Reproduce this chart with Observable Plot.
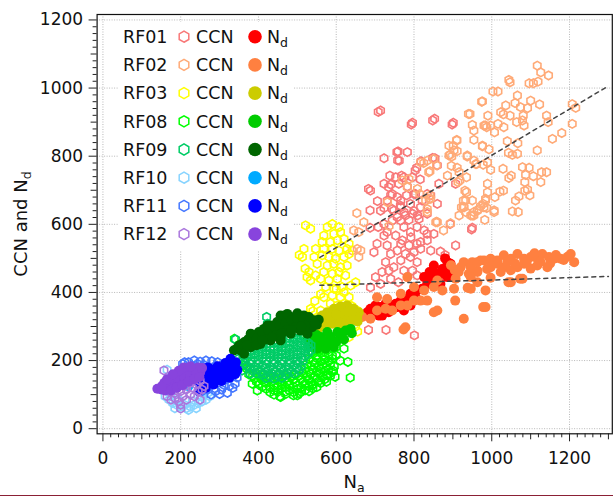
<!DOCTYPE html>
<html><head><meta charset="utf-8">
<script src="https://cdn.jsdelivr.net/npm/d3@7"></script>
<script src="https://cdn.jsdelivr.net/npm/@observablehq/plot@0.6"></script>
<style>
body{margin:0;background:#fff;}
#wrap{position:relative;width:613px;height:496px;overflow:hidden;background:#fff;}
#bottomline{position:absolute;left:0;top:495px;width:613px;height:1px;background:#8b2035;}
</style></head>
<body><div id="wrap"><div id="bottomline"></div></div>
<script>
// ---------- tick labels ----------
const xTicks = [0, 200, 400, 600, 800, 1000, 1200];
const yTicks = [0, 200, 400, 600, 800, 1000, 1200];
const flights = ["RF01", "RF02", "RF03", "RF08", "RF09", "RF10", "RF11", "RF12"];
const ccnColors = ["#f87878", "#ffaa77", "#ffff00", "#00ff00", "#00cc66", "#88d4ff", "#4477ff", "#aa77dd"];
const ndColors  = ["#ff0000", "#ff8040", "#cccc00", "#00cc00", "#006600", "#00aaff", "#0000ff", "#8844dd"];

// ---------- data (Na, value) ----------
const rf01CCN = [[708,930],[714,934],[848,905],[853,910],[898,893],[901,898],[793,893],[796,898],
[723,794],[756,812],[759,814],[783,812],[758,788],[762,787],[848,795],[854,794],[818,785],[860,773],[807,766],
[803,758],[768,743],[738,743],[753,738],[774,738],[796,738],[816,732],[723,719],[740,717],[761,719],[735,709],[783,711],[864,719],[907,719],[683,704],
[688,699],[744,689],[757,680],[781,685],[804,689],[834,689],[740,685],[800,689],[843,685],[731,670],[766,670],[821,670],[706,668],[765,655],[791,660],[860,660],[723,648],[744,645],[766,650],[817,650],[687,641],[714,640],[748,640],[774,636],[800,639],[834,631],[796,631],[778,626],[757,621],[809,626],[813,616],[744,611],[766,611],[787,613],[723,601],[893,601],[774,592],[808,592],[708,592],[687,590],[826,582],[791,577],[731,577],[834,572],[851,572],[723,567],[753,567],[792,562],[770,553],[834,553],[787,538],[808,543],[705,543],[731,538],[766,543],[817,548],[757,523],[778,513],[800,518],[817,528],[843,523],[697,518],[740,513],[907,538],[766,494],[791,504],[808,489],[727,489],[748,474],[718,460],[735,464],[774,464],[796,464],[808,450],[701,445],[714,425],[740,440],[688,415],[760,430],[850,460],[875,470],[880,510],[868,520],[840,455],[683,290],[728,290],[801,274],[948,585],[950,590]];

const rf01Nd = [[886,489],[903,464],[873,469],[860,455],[847,440],[834,425],[821,411],[808,406],[791,396],[778,381],[766,376],[753,367],[740,362],[727,367],[714,357],[701,362],[688,352],[680,342],[697,337],[710,332],[851,479],[868,425],[886,445],[894,484],[826,445],[804,386],[791,362],[774,347],[757,357],[735,342],[718,332],[688,332],[840,460],[860,440],[875,455],[890,470],[880,500]];

const rf02CCN = [[1117,1066],[1126,1046],[1146,1037],[1044,1024],[1047,1017],[1096,1014],[1107,1014],[1119,1019],[1003,990],[1016,990],[1066,978],[974,960],[1100,963],[1123,952],[1036,949],[1060,956],[1074,944],[1092,941],[1207,953],[1216,942],[944,924],[990,919],[1023,929],[1030,923],[1047,919],[1141,919],[1081,919],[1079,905],[950,892],[954,875],[984,890],[997,890],[1016,895],[1031,885],[1064,900],[1083,890],[1007,870],[1145,900],[1207,895],[1180,868],[1156,851],[954,848],[1040,844],[1067,838],[976,829],[1043,810],[1053,804],[1066,807],[1117,817],[937,802],[954,787],[959,777],[989,782],[997,760],[1029,763],[1079,768],[1096,766],[1128,753],[1141,753],[1044,736],[1050,743],[1087,745],[1107,741],[1126,724],[935,694],[989,719],[989,694],[1030,699],[1021,696],[1085,724],[1085,699],[1092,702],[1008,680],[1070,682],[1061,670],[1098,685],[984,670],[971,653],[980,650],[933,670],[929,650],[1006,641],[1053,638],[954,636],[1068,636],
[976,961],[910,848],[890,831],[901,831],[911,815],[890,802],[897,799],[937,799],[980,890],[987,885],[976,831],[993,820],[961,777],[978,775],[896,772],[911,766],[935,738],[913,724],[886,743],[838,753],[825,780],[851,792],[858,773],[830,670],[841,685],[843,675],[834,636],[815,689],[927,670],[922,650],[946,626],[954,626],[967,645],[978,660],[987,648],[1006,636],[982,613],[858,608],
[940,924],[910,846],[903,817],[893,805],[916,753],[918,729],[931,699],[927,652],[834,787],[817,782],[841,756],[787,733],[783,709],[809,704],[839,675],[834,645],[856,606],[876,582],[653,633],[671,606],[732,665],[770,729],[736,595],
[645,582],[658,577],[654,528],[641,523],[663,523],[658,504],[950,670],[963,640],[933,636],[950,626],[984,675],[916,626],[860,606],[894,603]];

const rf02Nd = [[731,381],[766,396],[800,416],[817,376],[826,406],[834,376],[860,435],[873,406],[800,376],[783,362],[766,362],[744,347],[727,352],[705,347],[688,323],[667,328],[654,333],[705,386],[778,298],[783,445],[851,416],[640,335],[630,330],
[920,474],[928,489],[950,489],[971,494],[997,494],[988,469],[963,464],[941,455],[907,440],[903,411],[946,474],[963,489],[980,494],[997,499],[1014,494],[1031,509],[1049,499],[1066,513],[1083,499],[1100,504],[1117,499],[1130,513],[1147,504],[1160,499],[1177,499],[1203,513],[1212,489],[1143,474],[1100,470],[1066,474],[1031,474],[997,474],[963,460],[1049,465],[1083,484],[1117,479],[1023,460],[946,445],[963,430],[997,443],[1049,430],[1079,440],[984,406],[946,411],[984,357],[1014,484],[905,465],[895,480],[915,460],[1040,490],[1060,485],[1090,490],[1110,515],[1125,490],[1150,485],[1165,510],[1185,495],[1195,505],
[928,323],[860,347],[938,414],[906,376],[978,357],[851,342],[773,291],[1043,430],[1073,440]];

const rf03CCN = [[521,597],[534,587],[577,592],[590,601],[607,592],[568,567],[594,572],[611,577],[564,548],[585,548],[603,553],[620,557],[633,543],[517,528],[547,528],[568,528],[590,528],[607,523],[628,528],[513,504],[543,504],[564,509],[581,504],[598,499],[620,504],[633,513],[551,484],[577,479],[594,484],[611,474],[628,479],[530,460],[547,450],[568,460],[590,455],[607,460],[624,450],[534,435],[560,440],[581,435],[603,440],[650,430],[573,416],[594,411],[615,416],[637,420],[568,386],[590,391],[611,386],[633,386],[585,367],[603,362],[620,367],[534,352],[560,347],[654,347],[577,332],[540,345],[643,318],[633,269],[650,300],[655,285],[525,445],[505,510],[520,470],[600,410],[560,395],[545,375],[620,400],[640,360],[615,340]];

const rf03Nd = [[560,328],[577,337],[594,347],[611,352],[628,357],[645,352],[658,342],[654,328],[637,332],[620,328],[603,323],[585,318],[568,313],[543,303],[551,318],[564,332],[577,342],[594,352],[611,359],[628,362],[641,352],[551,288],[573,298],[590,308],[607,305],[625,312],[640,318],[655,315],[585,330],[610,340],[630,345],[600,335]];

const rf08CCN = [[440,100],[455,95],[470,102],[490,98],[505,104],
[420,117],[440,113],[460,118],[480,112],[500,116],[520,113],[540,118],
[400,130],[420,133],[440,128],[460,132],[480,130],[500,127],[520,132],[540,130],[560,134],
[390,147],[410,143],[430,146],[450,142],[470,147],[490,144],[510,146],[530,143],[550,147],[570,145],
[375,160],[395,163],[415,158],[435,162],[455,160],[475,163],[495,158],[515,162],[535,160],[555,163],[575,158],
[370,176],[390,173],[520,177],[540,173],[560,176],[580,174],
[525,190],[545,192],[565,188],[585,191],
[530,205],[550,207],[570,203],[590,206],
[540,220],[560,222],[580,218],[545,235],[565,237],
[430,107],[450,108],[470,109],[490,107],[510,108],[530,110],
[410,123],[430,122],[450,124],[470,122],[490,123],[510,121],[530,124],[550,122],
[395,138],[415,137],[435,139],[455,137],[475,139],[495,136],[515,138],[535,137],[555,140],[575,138],
[385,154],[405,152],[425,154],[445,151],[465,154],[485,152],[505,155],[525,152],[545,154],[565,152],[585,155],
[530,168],[550,167],[570,169],[590,166],[535,183],[555,182],[575,184],[595,183],
[540,198],[560,197],[580,199],[550,213],[570,212],[590,214],[550,228],[570,226],
[636,150],[630,196],[610,200],[397,112],[384,132],[457,93],[500,98],[538,127],[578,157],[338,264],[600,215],[593,170],[597,152],[365,200],[362,185],[620,235],[600,240]];

const rf08Nd = [[526,269],[534,288],[543,254],[560,269],[564,244],[577,284],[590,259],[603,284],[624,288],[637,293],[573,235],[551,235],[594,240],[610,270],[620,262],[585,270],[550,275],[600,255],[580,250],[530,245],[640,280],[615,280],[565,260],[545,262]];

const rf09CCN = [[500,275],[515,272],
[460,262],[480,265],[500,262],[520,258],
[400,245],[420,248],[440,250],[460,248],[480,246],[500,245],[520,243],[535,245],
[360,232],[380,230],[400,232],[420,230],[440,232],[460,230],[480,232],[500,230],[520,228],[535,230],
[360,215],[380,217],[400,215],[420,217],[440,215],[460,217],[480,215],[500,217],[520,213],
[360,200],[380,198],[400,200],[420,198],[440,200],[460,198],[480,200],[500,198],[515,200],
[370,185],[390,183],[410,185],[430,183],[450,185],[470,183],[490,185],[510,183],
[385,170],[405,168],[425,170],[445,168],[465,170],[485,168],[505,172],
[410,157],[430,153],[450,155],[470,157],
[490,268],[510,266],
[450,255],[470,253],[490,254],[510,251],[528,252],
[390,238],[410,240],[430,238],[450,240],[470,238],[490,239],[510,237],[528,238],
[370,223],[390,222],[410,224],[430,222],[450,224],[470,222],[490,224],[510,222],[528,221],
[370,207],[390,208],[410,206],[430,208],[450,207],[470,208],[490,206],[510,207],
[365,192],[380,191],[400,192],[420,190],[440,192],[460,191],[480,193],[500,191],
[378,177],[398,176],[418,178],[438,176],[458,178],[478,176],[498,178],
[395,162],[415,161],[435,162],[455,161],[475,163],[492,162],
[420,148],[440,147],[460,149],
[421,328],[423,308],[341,262],[358,171],[379,161],[348,205]];

const rf09Nd = [[337,230],[350,244],[363,254],[375,264],[388,274],[401,284],[414,293],[431,303],[448,313],[465,323],[483,328],[500,332],[517,332],[530,328],[543,318],[538,298],[354,230],[380,239],[405,249],[431,259],[457,269],[483,279],[508,288],[530,298],[388,254],[418,274],[440,284],[465,298],[491,308],[517,313],[474,318],[448,293],[457,332],[500,339],[423,303],[380,279],[363,220],[457,259],[526,279],[474,337],[550,305],[555,320],
[345,236],[358,249],[370,258],[395,265],[410,280],[425,290],[440,300],[455,305],[470,310],[485,318],[500,322],[515,322],[530,315],[545,310],[420,262],[445,275],[470,288],[495,298],[520,302],[395,245],[370,245],[410,260],[435,268],[460,280],[485,290],[510,300]];

const rf10CCN = [[160,95],[170,85],[180,75],[190,70],[200,65],[210,70],[220,55],[225,65],[235,70],[245,75],[255,80],[265,85],[275,95],[270,105],[185,60],[165,110],[160,125],[215,60],[240,60],[250,95],[230,80],[165,173],[175,100],[195,85],[260,100]];

const rf10Nd = [[200,130],[215,140],[230,150],[195,145],[220,125]];

const rf11CCN = [[205,190],[220,195],[235,200],[250,197],[265,200],[280,198],[295,195],[310,190],[230,185],[260,187],[290,185],[320,180],[212,178],[278,100],[320,105],[334,120],[290,110],[305,115],[270,115],[300,102],[340,132],[345,150],[325,125],[255,110],[262,123],[312,128],[210,195],[244,190]];

const rf11Nd = [[246,110],[255,125],[265,140],[275,135],[285,150],[295,145],[305,160],[315,155],[325,170],[335,165],[340,180],[330,190],[320,185],[310,178],[300,172],[290,165],[280,160],[270,155],[260,148],[250,142],[245,155],[255,165],[275,175],[295,183],[315,193],[328,205],[342,195],[265,120],[285,130],[305,140],[325,150],[340,160],[346,172],[250,130],[270,180]];

const rf12CCN = [[165,95],[175,85],[185,90],[195,80],[205,95],[215,85],[225,100],[235,95],[245,110],[255,115],[170,110],[185,105],[200,110],[215,115],[230,120],[240,130],[250,140],[190,120],[210,125],[225,135],[200,70],[200,59],[157,171],[250,85],[260,125],[180,125],[160,115]];

const rf12Nd = [[140,117],[150,115],[160,112],[165,128],[175,125],[180,138],[190,133],[195,145],[205,140],[210,152],[220,150],[225,160],[235,158],[240,168],[250,165],[255,178],[245,180],[230,172],[215,165],[200,158],[185,150],[170,142],[158,135],[152,125],[175,112],[190,120],[205,128],[220,138],[235,145],[248,152],[208,180],[195,170],[165,145],[180,160],[225,183]];

const fitUpper = [[558, 503], [1297, 1004]];
const fitLower = [[558, 421], [1300, 447]];

const ccnData = [rf01CCN, rf02CCN, rf03CCN, rf08CCN, rf09CCN, rf10CCN, rf11CCN, rf12CCN];
const ndData  = [rf01Nd, rf02Nd, rf03Nd, rf08Nd, rf09Nd, rf10Nd, rf11Nd, rf12Nd];

// pointy-top hexagon symbol
const hexSymbol = {
  draw(context, size) {
    const rx = Math.sqrt(size / Math.PI), ry = rx * 2 / Math.sqrt(3), hy = ry / 2;
    context.moveTo(0, ry); context.lineTo(rx, hy); context.lineTo(rx, -hy);
    context.lineTo(0, -ry); context.lineTo(-rx, -hy); context.lineTo(-rx, hy); context.closePath();
  }
};

const xMinor = d3.range(0, 1301, 20).filter(v => v % 100 !== 0);
const xMid = d3.range(100, 1301, 200);
const yMinor = d3.range(0, 1201, 20).filter(v => v % 100 !== 0);
const yMid = d3.range(100, 1201, 200);

const gx = d => d[0], gy = d => d[1];
const marks = [
  Plot.gridX(xTicks, {stroke: "#b8b8b8", strokeOpacity: 1, strokeDasharray: "1,1.5"}),
  Plot.gridY(yTicks, {stroke: "#b8b8b8", strokeOpacity: 1, strokeDasharray: "1,1.5"})
];
flights.forEach((f, i) => {
  marks.push(Plot.dot(ccnData[i], {x: gx, y: gy, symbol: hexSymbol, r: 3.7, stroke: ccnColors[i], strokeWidth: 1.6, fill: "none"}));
  marks.push(Plot.dot(ndData[i], {x: gx, y: gy, r: 5, fill: ndColors[i]}));
});
marks.push(
  Plot.line(fitUpper, {x: gx, y: gy, stroke: "#444", strokeWidth: 1.5, strokeDasharray: "4,4"}),
  Plot.line(fitLower, {x: gx, y: gy, stroke: "#444", strokeWidth: 1.5, strokeDasharray: "4,4"}),
  Plot.frame({stroke: "#111", strokeWidth: 1.2}),
  Plot.axisX(xTicks, {tickSize: 8, tickPadding: 10, tickFormat: d => String(d), label: null, stroke: "#222"}),
  Plot.axisX(xMid, {tickSize: 6, tickFormat: () => "", label: null, stroke: "#222"}),
  Plot.axisX(xMinor, {tickSize: 4, tickFormat: () => "", label: null, stroke: "#222"}),
  Plot.axisY(yTicks, {tickSize: 8, tickPadding: 6, tickFormat: d => String(d), label: null, stroke: "#222"}),
  Plot.axisY(yMid, {tickSize: 6, tickFormat: () => "", label: null, stroke: "#222"}),
  Plot.axisY(yMinor, {tickSize: 4, tickFormat: () => "", label: null, stroke: "#222"})
);

const chart = Plot.plot({
  width: 613, height: 496,
  marginLeft: 96.6, marginRight: 1.2, marginTop: 14, marginBottom: 62.7,
  x: {domain: [-15, 1310]},
  y: {domain: [-15, 1216]},
  style: {fontFamily: "DejaVu Sans", fontSize: "17px", background: "white", color: "#111"},
  marks
});
document.getElementById("wrap").prepend(chart);

// ---------- legend & axis titles ----------
const svg = d3.select(chart);
const lg = svg.append("g").attr("font-family", "DejaVu Sans").attr("font-size", 17.5)
  .attr("fill", "#111").attr("text-anchor", "start");
lg.append("rect").attr("x", 119).attr("y", 22).attr("width", 174).attr("height", 228).attr("fill", "white");
function hexPath(cx, cy, rx) {
  const ry = rx * 2 / Math.sqrt(3), hy = ry / 2;
  return `M${cx},${cy + ry}L${cx + rx},${cy + hy}L${cx + rx},${cy - hy}L${cx},${cy - ry}L${cx - rx},${cy - hy}L${cx - rx},${cy + hy}Z`;
}
flights.forEach((f, i) => {
  const cy = 36.7 + i * 28.2;
  lg.append("text").attr("x", 123).attr("y", cy).attr("dy", "0.36em").text(f);
  lg.append("path").attr("d", hexPath(184, cy, 4.8)).attr("fill", "none").attr("stroke", ccnColors[i]).attr("stroke-width", 1.5);
  lg.append("text").attr("x", 196).attr("y", cy).attr("dy", "0.36em").text("CCN");
  lg.append("circle").attr("cx", 255).attr("cy", cy).attr("r", 6.8).attr("fill", ndColors[i]);
  const t = lg.append("text").attr("x", 267).attr("y", cy).attr("dy", "0.36em");
  t.append("tspan").text("N");
  t.append("tspan").attr("dy", "0.32em").attr("font-size", 12.5).text("d");
});

const xt = svg.append("text").attr("x", 354).attr("y", 488).attr("text-anchor", "middle")
  .attr("font-family", "DejaVu Sans").attr("font-size", 18).attr("fill", "#111");
xt.append("tspan").text("N");
xt.append("tspan").attr("dy", "0.3em").attr("font-size", 12.5).text("a");

const yt = svg.append("text").attr("transform", "translate(27,224) rotate(-90)").attr("text-anchor", "middle")
  .attr("font-family", "DejaVu Sans").attr("font-size", 18).attr("fill", "#111");
yt.append("tspan").text("CCN and N");
yt.append("tspan").attr("dy", "0.3em").attr("font-size", 12.5).text("d");
</script>
</body></html>
